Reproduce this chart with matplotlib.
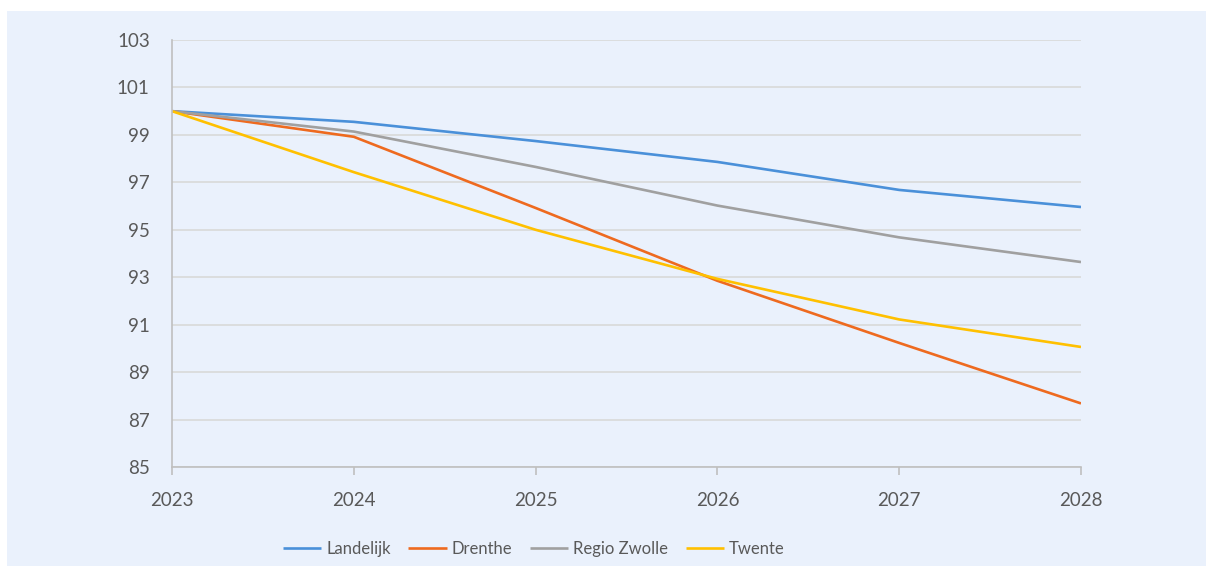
import matplotlib
matplotlib.use('Agg')
import matplotlib.pyplot as plt
from matplotlib.patches import Rectangle

plt.rcParams['font.family'] = ['Lato', 'DejaVu Sans']

years = [2023, 2024, 2025, 2026, 2027, 2028]
landelijk = [100.0, 99.55, 98.74, 97.86, 96.68, 95.96]
drenthe = [100.0, 98.92, 95.92, 92.85, 90.23, 87.68]
regio_zwolle = [100.0, 99.14, 97.65, 96.02, 94.68, 93.64]
twente = [100.0, 97.43, 95.0, 92.93, 91.22, 90.06]
yticks = list(range(85, 104, 2))

series = [
    ('Landelijk', landelijk, '#4A90D9'),
    ('Drenthe', drenthe, '#EE6A1F'),
    ('Regio Zwolle', regio_zwolle, '#A0A0A0'),
    ('Twente', twente, '#FFC000'),
]

fig = plt.figure(figsize=(12.13, 5.76), dpi=100)
fig.patch.set_facecolor('white')
bg = '#EAF1FC'
rect = Rectangle((7 / 1213, 10 / 576), 1199 / 1213, 555 / 576,
                 transform=fig.transFigure, facecolor=bg,
                 edgecolor='none', zorder=-10)
fig.add_artist(rect)

ax = fig.add_axes([172 / 1213, 1 - 467 / 576, 909 / 1213, 427 / 576])
ax.set_facecolor(bg)
ax.set_zorder(1)

for name, vals, col in series:
    ax.plot(years, vals, color=col, lw=1.9, label=name, solid_capstyle='butt')

ax.set_xlim(2023, 2028)
ax.set_ylim(85, 103)
ax.set_yticks(yticks)
ax.set_xticks(years)
ax.grid(axis='y', color='#D9D9D9', lw=1.2)
ax.set_axisbelow(True)
for s in ['top', 'right']:
    ax.spines[s].set_visible(False)
for s in ['left', 'bottom']:
    ax.spines[s].set_color('#BFBFBF')
    ax.spines[s].set_linewidth(1.2)
ax.tick_params(axis='y', length=0, pad=16, labelsize=13.5, labelcolor='#595959')
ax.tick_params(axis='x', length=6, width=1.2, color='#BFBFBF', pad=12,
               labelsize=13.5, labelcolor='#595959', direction='out')

fig.legend(loc='center', bbox_to_anchor=(534 / 1213, 1 - 549 / 576), ncol=4,
           frameon=False, fontsize=12, handlelength=2.3, handletextpad=0.3,
           columnspacing=1.05, labelcolor='#595959')

fig.savefig('out.png', dpi=100, facecolor='white')
